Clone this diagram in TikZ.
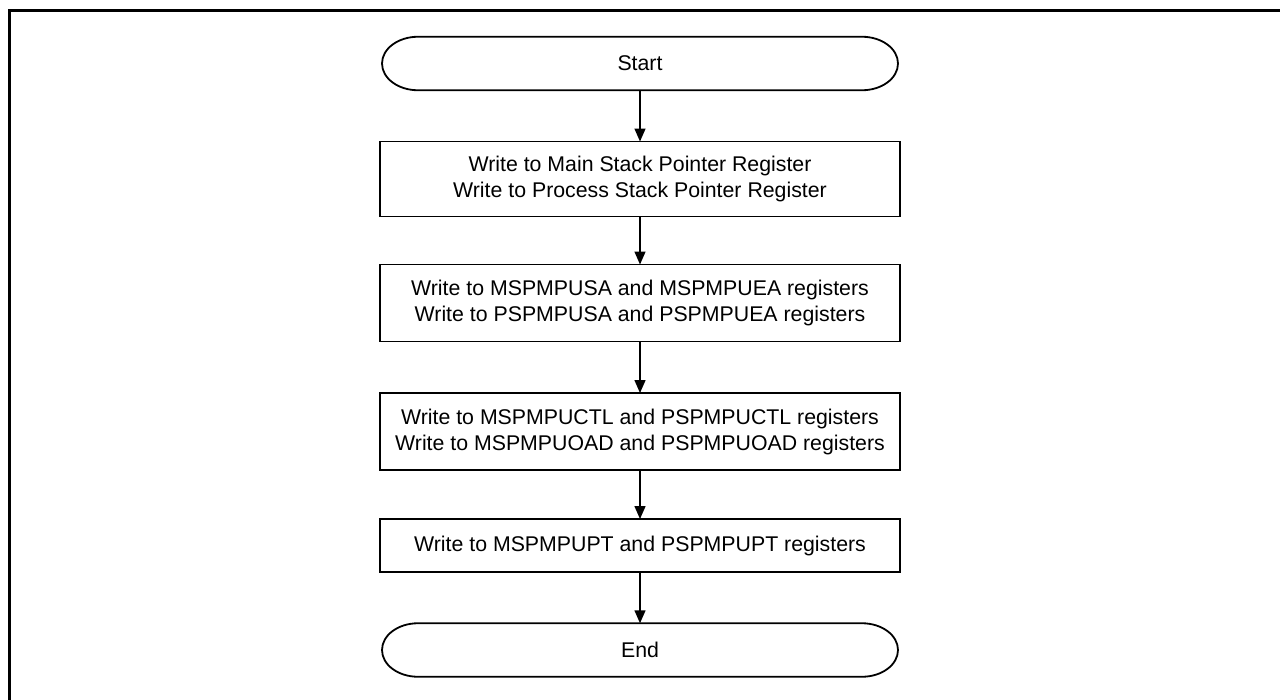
\documentclass[tikz,border=0pt]{standalone}
\usepackage{fontspec}
\setmainfont{Liberation Sans}
\usetikzlibrary{arrows.meta}
\tikzset{
  stepbox/.style={draw, line width=1.6pt, minimum width=520pt, inner sep=0pt, outer sep=0pt,
    align=center, font=\fontsize{21.3}{26}\selectfont},
  termbox/.style={draw=none, minimum width=516pt, inner sep=0pt, outer sep=0pt,
    align=center, font=\fontsize{21.3}{26}\selectfont},
  termline/.style={line width=1.8pt},
  arr/.style={line width=1.5pt, -{Triangle[length=13pt,width=11pt]}},
  frame/.style={line width=3pt}
}
\newcommand{\termpath}[1]{%
  \draw[termline] ([xshift=36pt]#1.north west) -- ([xshift=-36pt]#1.north east)
    arc[start angle=90,end angle=-90,x radius=36pt,y radius=26.75pt]
    -- ([xshift=36pt]#1.south west)
    arc[start angle=270,end angle=90,x radius=36pt,y radius=26.75pt] -- cycle;}
\begin{document}
\begin{tikzpicture}[x=1pt,y=1pt]
\useasboundingbox (0,0) rectangle (1280,-699);
\draw[frame] (9.5,-705) -- (9.5,-10.5) -- (1290,-10.5);

\node[termbox, minimum height=53.5pt] (start) at (640,-63.5) {Start};
\termpath{start}
\node[stepbox, minimum height=75pt] (b1) at (640,-179) {Write to Main Stack Pointer Register\\Write to Process Stack Pointer Register};
\node[stepbox, minimum height=77pt] (b2) at (640,-303) {Write to MSPMPUSA and MSPMPUEA registers\\Write to PSPMPUSA and PSPMPUEA registers};
\node[stepbox, minimum height=77pt] (b3) at (640,-431.5) {Write to MSPMPUCTL and PSPMPUCTL registers\\Write to MSPMPUOAD and PSPMPUOAD registers};
\node[stepbox, minimum height=53pt] (b4) at (640,-545.5) {Write to MSPMPUPT and PSPMPUPT registers};
\node[termbox, minimum height=53.5pt] (end) at (640,-650) {End};
\termpath{end}

\draw[arr] (start.south) -- (b1.north);
\draw[arr] (b1.south) -- (b2.north);
\draw[arr] (b2.south) -- (b3.north);
\draw[arr] (b3.south) -- (b4.north);
\draw[arr] (b4.south) -- (end.north);
\end{tikzpicture}
\end{document}
